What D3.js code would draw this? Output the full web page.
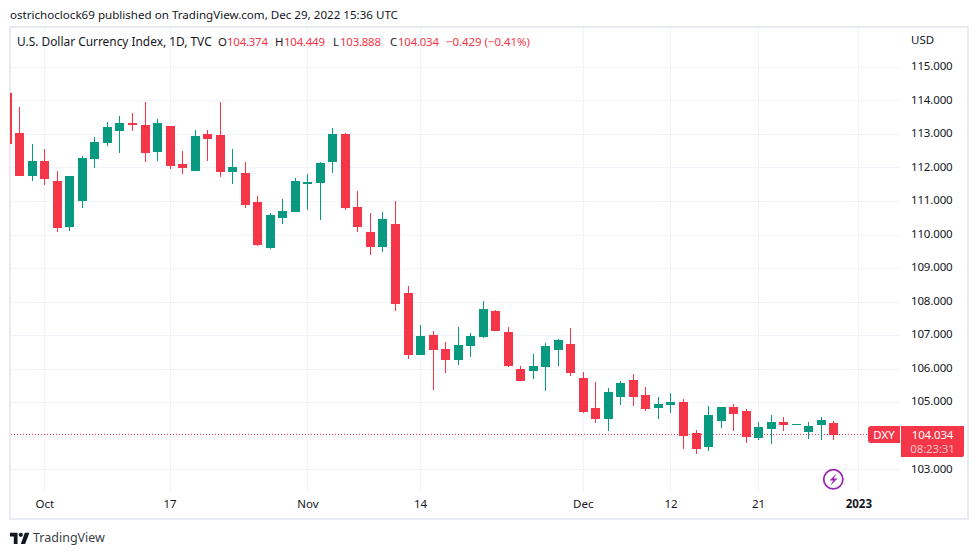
<!DOCTYPE html>
<html>
<head>
<meta charset="utf-8">
<script src="https://cdn.jsdelivr.net/npm/d3@7/dist/d3.min.js"></script>
<style>
  html, body { margin: 0; padding: 0; background: #fff; }
  svg { display: block; }
  text { font-family: "Noto Sans", sans-serif; fill: #131722; }
  .axis path, .axis line { display: none; }
</style>
</head>
<body>
<div id="main"></div>
<script>
// one entry per trading day, the last two are the empty days on the right
const dates = ["2022-09-28","2022-09-29","2022-09-30","2022-10-03","2022-10-04","2022-10-05","2022-10-06","2022-10-07",
  "2022-10-10","2022-10-11","2022-10-12","2022-10-13","2022-10-14","2022-10-17","2022-10-18","2022-10-19","2022-10-20","2022-10-21",
  "2022-10-24","2022-10-25","2022-10-26","2022-10-27","2022-10-28","2022-10-31","2022-11-01","2022-11-02","2022-11-03","2022-11-04",
  "2022-11-07","2022-11-08","2022-11-09","2022-11-10","2022-11-11","2022-11-14","2022-11-15","2022-11-16","2022-11-17","2022-11-18",
  "2022-11-21","2022-11-22","2022-11-23","2022-11-24","2022-11-25","2022-11-28","2022-11-29","2022-11-30","2022-12-01","2022-12-02",
  "2022-12-05","2022-12-06","2022-12-07","2022-12-08","2022-12-09","2022-12-12","2022-12-13","2022-12-14","2022-12-15","2022-12-16",
  "2022-12-19","2022-12-20","2022-12-21","2022-12-22","2022-12-23","2022-12-26","2022-12-27","2022-12-28","2022-12-29","2022-12-30","2023-01-02"];

const opens = [114.22,113.03,111.75,112.19,111.60,110.23,111.00,112.25,112.73,113.09,113.32,113.27,112.46,113.24,112.10,111.89,113.00,112.97,
  111.86,111.83,110.97,109.60,110.49,110.67,111.51,111.54,112.16,113.00,110.82,110.08,109.63,110.31,108.26,106.41,107.01,106.59,106.26,106.68,
  106.95,107.72,107.10,105.99,105.93,106.05,106.56,106.74,105.72,104.83,104.50,105.16,105.66,105.22,104.83,104.92,105.01,104.09,103.67,104.44,
  104.86,104.74,103.94,104.20,104.41,104.35,104.11,104.32,104.374];
const highs = [114.22,113.80,112.70,112.55,111.89,111.75,112.34,112.91,113.35,113.53,113.62,113.95,113.44,113.24,112.49,113.12,113.12,113.95,
  112.55,112.16,111.15,110.64,111.06,111.69,111.80,112.16,113.18,113.03,111.30,110.64,110.67,111.00,108.47,107.30,107.13,106.80,107.24,107.07,
  108.02,107.75,107.24,106.08,106.44,106.77,106.89,107.21,105.90,105.61,105.43,105.63,105.84,105.46,105.16,105.28,105.10,104.17,104.89,104.86,
  104.95,104.80,104.41,104.62,104.56,104.35,104.41,104.56,104.449];
const lows = [112.70,111.75,111.60,111.48,110.08,110.11,110.79,111.98,112.64,112.43,113.09,112.16,112.19,111.95,111.80,111.89,112.19,111.72,
  111.51,110.79,109.66,109.57,110.31,110.67,110.73,110.43,111.83,110.73,110.08,109.39,109.48,107.72,106.29,106.41,105.37,105.87,106.11,106.35,
  106.92,107.13,106.05,105.63,105.69,105.34,106.08,105.78,104.68,104.38,104.14,104.92,104.89,104.74,104.50,104.68,103.61,103.46,103.55,104.23,
  104.14,103.79,103.88,103.76,104.14,104.35,103.91,103.88,103.888];
const closes = [112.70,111.75,112.19,111.66,110.20,111.75,112.28,112.76,113.21,113.32,113.27,112.43,113.32,112.04,111.98,112.94,112.85,111.86,
  112.01,110.88,109.69,110.58,110.70,111.60,111.57,112.13,113.00,110.79,110.23,109.63,110.46,107.93,106.41,106.98,106.56,106.26,106.71,106.98,
  107.78,107.13,106.08,105.63,106.08,106.68,106.86,105.87,104.71,104.50,105.31,105.58,105.16,104.80,104.95,105.01,104.00,103.61,104.62,104.86,
  104.65,103.97,104.26,104.41,104.32,104.35,104.29,104.47,104.034];

const priceTicks = [103,104,105,106,107,108,109,110,111,112,113,114,115];
const shownPrices = priceTicks.filter(d => d != 104); // 104 sits under the price label
const timeTicks = ["2022-10-03","2022-10-17","2022-11-01","2022-11-14","2022-12-01","2022-12-12","2022-12-21","2023-01-02"];
const timeLabels = ["Oct","17","Nov","14","Dec","12","21","2023"];

const lastPrice = 104.034;
const up = "#089981", down = "#f43648", grid = "#f0f3fa", frame = "#e9ebf3";

const width = 979, height = 555;
const svg = d3.select("#main").append("svg").attr("width", width).attr("height", height);

const x = d3.scalePoint().domain(dates).range([6.8, 858.3]);
const y = d3.scaleLinear().domain([103, 115]).range([469.4, 66.8]);

// chart frame
svg.append("rect").attr("x", 10).attr("y", 27).attr("width", 958).attr("height", 492)
  .attr("fill", "none").attr("stroke", frame).attr("stroke-width", 2);

svg.append("clipPath").attr("id", "plot").append("rect")
  .attr("x", 10).attr("y", 28).attr("width", 891).attr("height", 464);

// grid
svg.append("g").selectAll("line").data(priceTicks).enter().append("line")
  .attr("x1", 11).attr("x2", 901)
  .attr("y1", d => Math.round(y(d)) + 0.5).attr("y2", d => Math.round(y(d)) + 0.5)
  .attr("stroke", grid);
svg.append("g").selectAll("line").data(timeTicks).enter().append("line")
  .attr("x1", d => Math.round(x(d)) + 0.5).attr("x2", d => Math.round(x(d)) + 0.5)
  .attr("y1", 28).attr("y2", 492)
  .attr("stroke", grid);

// last price line
svg.append("line").attr("x1", 11).attr("x2", 868)
  .attr("y1", Math.floor(y(lastPrice)) + 0.5).attr("y2", Math.floor(y(lastPrice)) + 0.5)
  .attr("stroke", down).attr("stroke-dasharray", "1 2");

// candles
const rows = d3.range(opens.length);
const candles = svg.append("g").attr("clip-path", "url(#plot)");
const color = i => closes[i] >= opens[i] ? up : down;

candles.selectAll(".wick").data(rows).enter().append("rect").attr("class", "wick")
  .attr("x", i => Math.round(x(dates[i])))
  .attr("width", 1)
  .attr("y", i => Math.round(y(highs[i])))
  .attr("height", i => Math.max(1, Math.round(y(lows[i])) - Math.round(y(highs[i]))))
  .attr("fill", color);

candles.selectAll(".body").data(rows).enter().append("rect").attr("class", "body")
  .attr("x", i => Math.round(x(dates[i])) - 4)
  .attr("width", 9)
  .attr("y", i => Math.round(y(Math.max(opens[i], closes[i]))))
  .attr("height", i => Math.max(1, Math.round(y(Math.min(opens[i], closes[i]))) - Math.round(y(Math.max(opens[i], closes[i])))))
  .attr("fill", color);

// axes
const priceAxis = svg.append("g").attr("class", "axis")
  .attr("transform", "translate(901,-1)")
  .call(d3.axisRight(y).tickValues(shownPrices).tickFormat(d3.format(".3f")).tickSize(0).tickPadding(10));
priceAxis.selectAll("text").style("font-size", "11.5px").style("letter-spacing", "-0.15px").style("font-family", '"Noto Sans", sans-serif');

const timeAxis = svg.append("g").attr("class", "axis")
  .attr("transform", "translate(0,497)")
  .call(d3.axisBottom(x).tickValues(timeTicks).tickFormat((d, i) => timeLabels[i]).tickSize(0).tickPadding(3));
timeAxis.selectAll("text").style("font-size", "11.5px").style("font-family", '"Noto Sans", sans-serif')
  .style("font-weight", d => d == "2023-01-02" ? "bold" : "normal");

svg.append("text").attr("x", 911).attr("y", 44).attr("font-size", 11.5).text("USD");

// top text
svg.append("text").attr("x", 10).attr("y", 18.5).attr("font-size", 11.6)
  .text("ostrichoclock69 published on TradingView.com, Dec 29, 2022 15:36 UTC");
svg.append("text").attr("x", 17).attr("y", 46).attr("font-size", 11.9)
  .text("U.S. Dollar Currency Index, 1D, TVC");

const headerLabels = ["O", "H", "L", "C"];
const headerValues = ["104.374", "104.449", "103.888", "104.034"];
const headerX = [218, 275, 333, 390];
const headerValueX = [227, 284, 340, 398];
headerLabels.forEach((d, i) => {
  svg.append("text").attr("x", headerX[i]).attr("y", 46).attr("font-size", 11.4).text(d);
  svg.append("text").attr("x", headerValueX[i]).attr("y", 46).attr("font-size", 11.4).style("letter-spacing", "-0.2px").style("fill", down).text(headerValues[i]);
});
svg.append("text").attr("x", 446).attr("y", 46).attr("font-size", 11.4).style("fill", down).text("\u22120.429 (\u22120.41%)");

// price labels
svg.append("path").attr("d", "M900 426H871a3 3 0 0 0 -3 3V440a3 3 0 0 0 3 3H900Z").attr("fill", down);
svg.append("text").attr("x", 884).attr("y", 438.5).attr("text-anchor", "middle").attr("font-size", 11.5).style("fill", "#fff").text("DXY");
svg.append("path").attr("d", "M901 426H964V455a2 2 0 0 1 -2 2H901Z").attr("fill", down);
svg.append("text").attr("x", 932.5).attr("y", 438.5).attr("text-anchor", "middle").attr("font-size", 11.5).style("letter-spacing", "-0.15px").style("fill", "#fff").text("104.034");
svg.append("text").attr("x", 932.5).attr("y", 453).attr("text-anchor", "middle").attr("font-size", 11.5).style("letter-spacing", "-0.15px").style("fill", "#fbc1c7").text("08:23:31");

// purple bolt
svg.append("circle").attr("cx", 833.3).attr("cy", 479.3).attr("r", 9.6)
  .attr("fill", "#fff").attr("stroke", "#9c27b0").attr("stroke-width", 1.8);
svg.append("path").attr("d", "M836.5 473.5L829.5 480.5H833.2L830.5 485.5L837.5 478.5H833.8Z").attr("fill", "#9c27b0");

// logo
svg.append("g").attr("transform", "translate(10,530.5) scale(0.54)").attr("fill", "#131722")
  .call(g => {
    g.append("path").attr("d", "M14 25H7V11H0V4H14Z");
    g.append("path").attr("d", "M28 25H20L27.5 4H36Z");
    g.append("circle").attr("cx", 20).attr("cy", 8).attr("r", 4);
  });
svg.append("text").attr("x", 33).attr("y", 542).attr("font-size", 12.5).style("fill", "#3c3f48").text("TradingView");
</script>
</body>
</html>
